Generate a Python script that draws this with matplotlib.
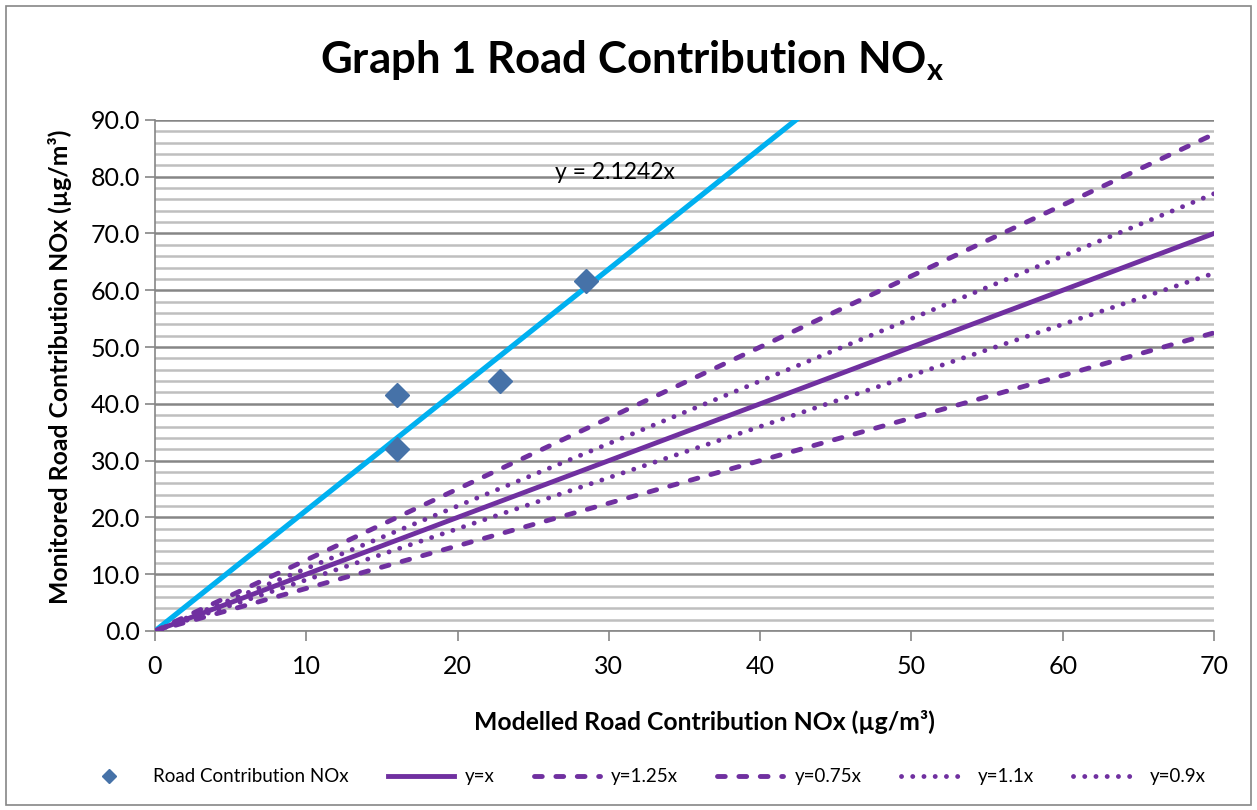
import matplotlib.pyplot as plt
from matplotlib.patches import Rectangle
import numpy as np

plt.rcParams['font.family'] = ['Lato', 'DejaVu Sans']

# data
modelled = [16.0, 16.0, 22.8, 28.5]
monitored = [41.6, 32.1, 44.0, 61.6]
trend_slope = 2.1242
ref_slopes = [1.0, 1.25, 0.75, 1.1, 0.9]
ref_labels = ['y=x', 'y=1.25x', 'y=0.75x', 'y=1.1x', 'y=0.9x']
ref_styles = ['-', (0, (1.6, 2.8)), (0, (1.6, 2.8)), (0, (0.01, 2.3)), (0, (0.01, 2.3))]
purple = '#7030A0'

fig = plt.figure(figsize=(12.57, 8.10), dpi=100)
ax = fig.add_axes([0.1233, 0.221, 0.8425, 0.631])

xs = np.array([0, 70])
ax.plot([0, 90 / trend_slope], [0, 90], color='#00B0F0', lw=3.8, zorder=3)
ax.plot(modelled, monitored, 'D', color='#4672A8', ms=12, zorder=4,
        label='Road Contribution NOx')
for s, lab, ls in zip(ref_slopes, ref_labels, ref_styles):
    caps = 'butt' if ls == '-' else 'round'
    ax.plot(xs, xs * s, color=purple, lw=3.5, linestyle=ls,
            dash_capstyle=caps, label=lab, zorder=3)

ax.text(30.4, 80.8, 'y = 2.1242x', ha='center', va='center', fontsize=16.5)

ax.set_xlim(0, 70)
ax.set_ylim(0, 90)
ax.set_xticks(range(0, 71, 10))
ax.set_yticks(range(0, 91, 10))
ax.set_yticklabels(['%.1f' % v for v in range(0, 91, 10)])
ax.set_yticks(np.arange(0, 91, 2), minor=True)
ax.tick_params(axis='both', labelsize=18, length=7, width=1.2, color='#868686')
ax.tick_params(axis='x', pad=10)
ax.tick_params(axis='y', which='minor', length=0)
ax.grid(axis='y', which='minor', color='#BFBFBF', lw=1.8)
ax.grid(axis='y', which='major', color='#868686', lw=1.8)
ax.set_axisbelow(True)
for sp in ['top', 'right']:
    ax.spines[sp].set_visible(False)
for sp in ['left', 'bottom']:
    ax.spines[sp].set_color('#868686')
    ax.spines[sp].set_linewidth(1.2)

ax.set_xlabel('Modelled Road Contribution NOx (µg/m³)', fontsize=17.8,
              fontweight='bold', va='center')
ax.set_ylabel('Monitored Road Contribution NOx (µg/m³)', fontsize=17.8,
              fontweight='bold', va='center')
ax.xaxis.set_label_coords(0.519, -0.178)
ax.yaxis.set_label_coords(-0.0897, 0.517)

fig.text(0.503, 0.925, 'Graph 1 Road Contribution NO$_\\mathregular{x}$',
         ha='center', va='center', fontsize=31.5, fontweight='bold')

handles, labels = ax.get_legend_handles_labels()
fig.legend(handles, labels, loc='center', bbox_to_anchor=(0.51, 0.041),
           ncol=6, frameon=False, fontsize=13.5, handlelength=3.5,
           columnspacing=2.1, handletextpad=0.6, markerscale=0.6)

fig.add_artist(Rectangle((0.005, 0.006), 0.99, 0.986, transform=fig.transFigure,
                         fill=False, edgecolor='#868686', lw=1.2))

fig.savefig('out.png', dpi=100)
